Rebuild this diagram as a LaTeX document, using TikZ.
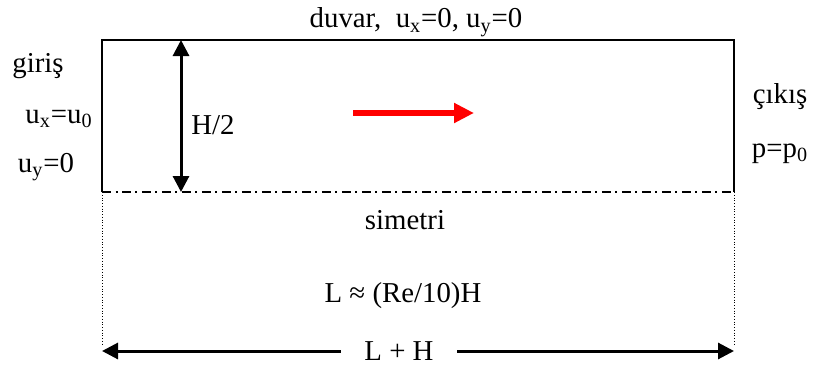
\documentclass[tikz,border=0pt]{standalone}
\usepackage{fontspec}
\setmainfont{Liberation Serif}
\usetikzlibrary{arrows.meta}

\tikzset{
  lbl/.style={font=\fontsize{16.4}{19.7}\selectfont,inner sep=0pt},
  dimarrow/.style={{Triangle[length=0.32cm,width=0.32cm]}-{Triangle[length=0.32cm,width=0.32cm]},line width=0.06cm},
  symline/.style={line width=0.03cm,dash pattern=on 0.18cm off 0.09cm on 0.04cm off 0.09cm}
}

\begin{document}
\begin{tikzpicture}[x=1cm,y=1cm]
  \useasboundingbox (0,0) rectangle (16.28,7.44);

  % Kanal: duvar, giris, cikis ve simetri cizgisi.
  \coordinate (tl) at (2.04,6.64);
  \coordinate (tr) at (14.68,6.64);
  \coordinate (bl) at (2.04,3.60);
  \coordinate (br) at (14.68,3.60);
  \draw[line width=0.03cm] (bl) -- (tl) -- (tr) -- (br);
  \draw[symline] (bl) -- (br);

  % Alt bolge: noktali sinirlar.
  \coordinate (dl) at (2.04,0.54);
  \coordinate (dr) at (14.68,0.54);
  \draw[densely dotted,line width=0.02cm] (bl) -- (dl);
  \draw[densely dotted,line width=0.02cm] (br) -- (dr);

  % Yarim yukseklik.
  \coordinate (ht) at (3.62,6.64);
  \coordinate (hb) at (3.62,3.60);
  \draw[dimarrow] (ht) -- (hb);
  \node[lbl,anchor=base] (half) at (4.26,4.76) {H/2};

  % Akis yonu.
  \coordinate (fs) at (7.06,5.18);
  \coordinate (fe) at (9.48,5.18);
  \draw[-{Triangle[length=0.40cm,width=0.38cm]},red,line width=0.11cm] (fs) -- (fe);

  % Kenar kosullari.
  \node[lbl,anchor=base] (duvar) at (8.32,6.88) {duvar,\ \ u\textsubscript{x}=0, u\textsubscript{y}=0};
  \node[lbl,anchor=base] (giris) at (0.76,6.00) {giriş};
  \node[lbl,anchor=base] (gux) at (1.18,4.98) {u\textsubscript{x}=u\textsubscript{0}};
  \node[lbl,anchor=base] (guy) at (0.92,4.00) {u\textsubscript{y}=0};
  \node[lbl,anchor=base] (cikis) at (15.60,5.38) {çıkış};
  \node[lbl,anchor=base] (cp) at (15.60,4.30) {p=p\textsubscript{0}};
  \node[lbl,anchor=base] (sim) at (8.10,2.86) {simetri};
  \node[lbl,anchor=base] (len) at (8.06,1.40) {L ≈ (Re/10)H};

  % Toplam uzunluk.
  \coordinate (al) at (2.04,0.42);
  \coordinate (ar) at (14.68,0.42);
  \node[lbl,inner xsep=0.47cm] (LH) at (7.98,0.42) {L + H};
  \draw[-{Triangle[length=0.32cm,width=0.32cm]},line width=0.06cm] (LH) -- (al);
  \draw[-{Triangle[length=0.32cm,width=0.32cm]},line width=0.06cm] (LH) -- (ar);
\end{tikzpicture}
\end{document}
